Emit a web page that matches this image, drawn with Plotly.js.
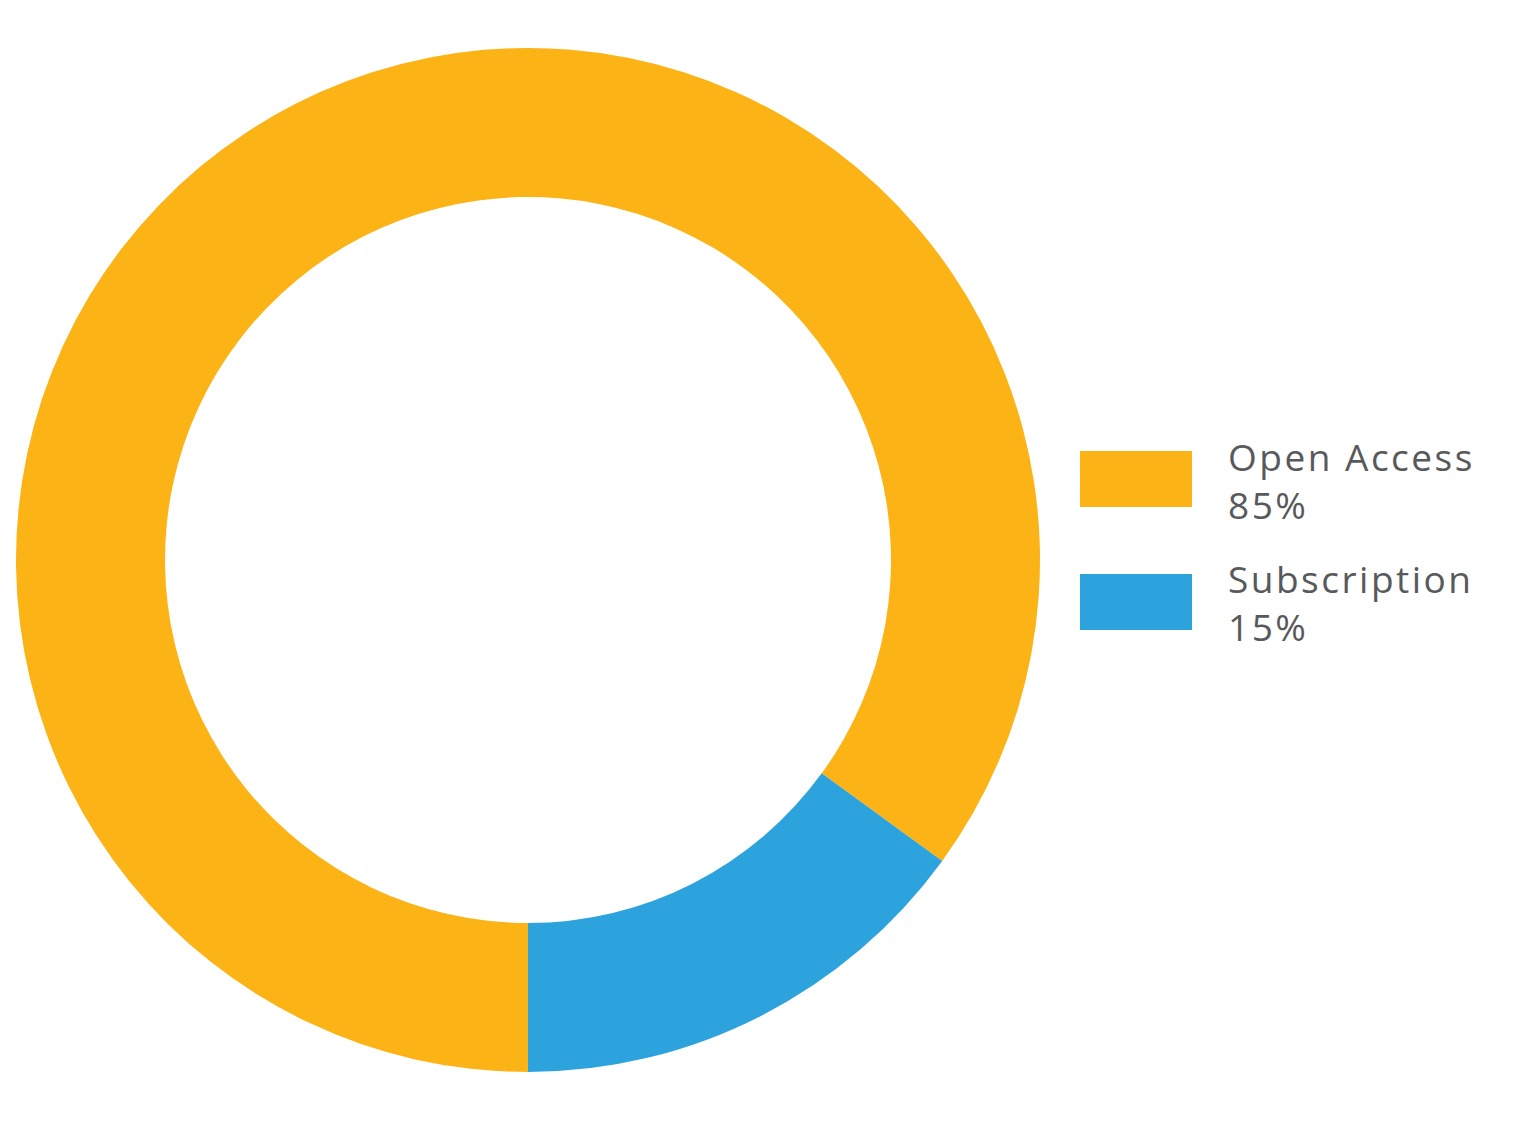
<!DOCTYPE html>
<html>
<head>
<meta charset="utf-8">
<script src="https://cdn.plot.ly/plotly-3.0.1.min.js"></script>
<style>
html,body{margin:0;padding:0;background:#fff;}
#chart{width:1536px;height:1127px;}
#chart .annotation-text{letter-spacing:2.5px;}
</style>
</head>
<body>
<div id="chart"></div>
<script>
var labels = ["Open Access", "Subscription"];
var values = [85, 15];
var colors = ["#FBB316", "#2CA3DC"];
var pctLabels = ["85%", "15%"];

(function () {
  var W = 1536, H = 1127;
  var cx = 528, cy = 560, R = 512;
  var font = {family: "'Open Sans', sans-serif", size: 37, color: "#58595B"};

  var shapes = [];
  var annotations = [];
  var rowTop = [451, 574];
  for (var i = 0; i < labels.length; i++) {
    var t0 = rowTop[i];
    shapes.push({
      type: "rect", xref: "paper", yref: "paper",
      x0: 1080 / W, x1: 1192 / W,
      y0: 1 - (t0 + 56) / H, y1: 1 - t0 / H,
      fillcolor: colors[i], line: {width: 0}
    });
    annotations.push({
      xref: "paper", yref: "paper", x: 1226 / W, y: 1 - (t0 + 29) / H,
      xanchor: "left", yanchor: "middle", align: "left", showarrow: false,
      text: labels[i] + "<br>" + pctLabels[i], font: font
    });
  }

  var data = [{
    type: "pie",
    labels: labels,
    values: values,
    marker: {colors: colors, line: {width: 0}},
    hole: 0.709,
    sort: false,
    direction: "clockwise",
    rotation: 180,
    textinfo: "none",
    hoverinfo: "label+percent",
    showlegend: false,
    domain: {x: [(cx - R) / W, (cx + R) / W], y: [1 - (cy + R) / H, 1 - (cy - R) / H]}
  }];

  var layout = {
    width: W, height: H,
    margin: {l: 0, r: 0, t: 0, b: 0},
    paper_bgcolor: "#ffffff",
    showlegend: false,
    shapes: shapes,
    annotations: annotations
  };

  Plotly.newPlot("chart", data, layout, {displayModeBar: false, staticPlot: true});
})();
</script>
</body>
</html>
